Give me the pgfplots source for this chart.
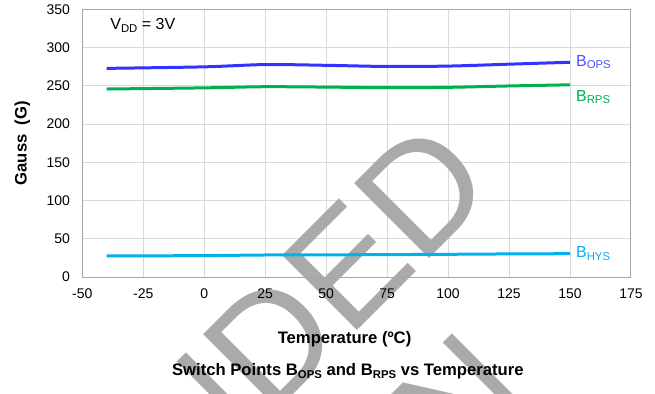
\documentclass[border=0pt]{standalone}
\usepackage{fontspec}
\setmainfont{Liberation Sans}
\usepackage{pgfplots}
\pgfplotsset{compat=1.18}
\definecolor{gridc}{RGB}{217,217,217}
\definecolor{framec}{RGB}{166,166,166}
\definecolor{bops}{RGB}{51,51,255}
\definecolor{bopst}{RGB}{80,80,255}
\definecolor{brps}{RGB}{0,176,80}
\definecolor{bhys}{RGB}{0,176,240}
\definecolor{wm}{RGB}{170,170,170}
\newcommand{\sub}[1]{\raisebox{-0.35ex}{\fontsize{8.5}{9}\selectfont #1}}
\pgfplotsset{base/.style={
  at={(61.725pt,87pt)}, anchor=south west, scale only axis,
  width=411.5pt, height=200.6pt,
  xmin=-50, xmax=175, ymin=0, ymax=350,
  xtick={-50,-25,...,175}, ytick={0,50,...,350},
  major tick length=0pt}}
\begin{document}
\begin{tikzpicture}
\begin{axis}[base, grid=major, grid style={gridc, line width=0.75pt},
  axis line style={draw=none}, xticklabels={}, yticklabels={}]
\end{axis}
\begin{scope}
\clip (0,0) rectangle (491.25pt,294.75pt);
\node[text=wm, rotate=45, anchor=base, inner sep=0pt,
  font=\fontsize{115.5pt}{130pt}\selectfont] at (-51.75pt,-273pt) {NOT RECOMMENDED};
\node[text=wm, rotate=45, anchor=base, inner sep=0pt,
  font=\fontsize{115.5pt}{130pt}\selectfont] at (41.2pt,-365.9pt) {FOR NEW DESIGN};
\end{scope}
\begin{axis}[base,
  axis line style={framec, line width=0.75pt},
  /pgf/number format/assume math mode=true,
  tick label style={font=\fontsize{10.5}{12}\selectfont, inner sep=0pt},
  xticklabel style={yshift=-8.5pt},
  yticklabel style={xshift=-9pt},
  xlabel={Temperature (ºC)},
  xlabel style={at={(rel axis cs:0.478,-0.2318)}, anchor=center, font=\bfseries\fontsize{12.5}{14}\selectfont},
  ylabel={Gauss\ \ (G)},
  ylabel style={at={(rel axis cs:-0.1094,0.5)}, anchor=center, font=\bfseries\fontsize{12.5}{14}\selectfont},
  title={Switch Points B\sub{OPS} and B\sub{RPS} vs Temperature},
  title style={at={(rel axis cs:0.484,-0.3813)}, anchor=center, font=\bfseries\fontsize{12.5}{14}\selectfont},
  ]
\addplot[bops, line width=2.25pt, smooth] coordinates {(-40,273) (0,275) (25,278) (50,277) (75,275.5) (100,276) (125,278.5) (150,281)};
\addplot[brps, line width=2.25pt, smooth] coordinates {(-40,246) (0,247.5) (25,249) (50,248.5) (75,247.7) (100,248.2) (125,250) (150,251.5)};
\addplot[bhys, line width=2.25pt, smooth] coordinates {(-40,27.5) (0,28) (25,28.8) (50,29) (75,29.3) (100,29.7) (125,30.2) (150,30.5)};
\node[anchor=west, inner sep=0pt, text=bopst, font=\fontsize{12}{14}\selectfont] at (axis cs:152.4,281.3) {B\sub{OPS}};
\node[anchor=west, inner sep=0pt, text=brps, font=\fontsize{12}{14}\selectfont] at (axis cs:152.4,235.5) {B\sub{RPS}};
\node[anchor=west, inner sep=0pt, text=bhys, font=\fontsize{12}{14}\selectfont] at (axis cs:152.4,30.1) {B\sub{HYS}};
\node[anchor=west, inner sep=0pt, font=\fontsize{12}{14}\selectfont] at (axis cs:-38.6,329.7) {V\sub{DD} = 3V};
\end{axis}
\pgfresetboundingbox
\useasboundingbox (0,0) rectangle (491.25pt,294.75pt);
\end{tikzpicture}
\end{document}
